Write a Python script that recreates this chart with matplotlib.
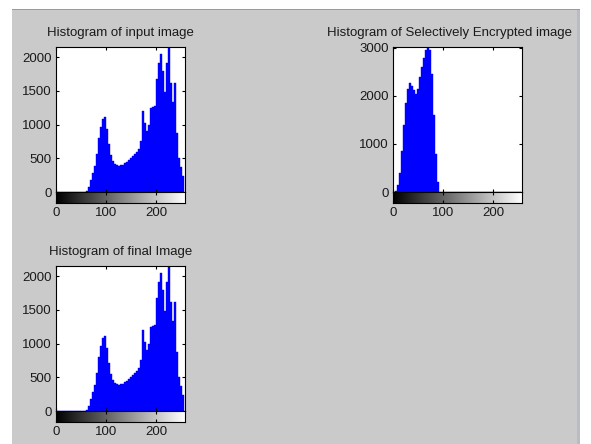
import numpy as np
import matplotlib.pyplot as plt
from matplotlib.patches import Rectangle

plt.rcParams['font.family'] = ['Liberation Sans', 'DejaVu Sans']

# histogram counts, 4 grey levels per bin
bin_starts = list(range(0, 256, 4))
input_counts = [0, 0, 0, 0, 0, 0, 0, 0, 0, 0, 0, 0, 0, 0, 0, 20,
                80, 180, 280, 380, 560, 800, 970, 1080, 1110, 940, 710, 550, 460, 415, 395, 385,
                395, 405, 425, 445, 470, 500, 530, 560, 590, 640, 750, 1200, 1030, 910,
                990, 1250, 1260, 1280, 1670, 1920, 2050, 1800, 1480, 1920, 2150, 1610, 1330, 1620,
                880, 510, 370, 230]
encrypted_counts = [0, 20, 150, 400, 850, 1400, 1850, 2150, 2280, 2200, 2120, 2050, 2150, 2400, 2600, 2800,
                    2950, 3020, 2950, 2450, 1600, 800, 200] + [0] * 41
final_counts = list(input_counts)

titles = ["Histogram of input image", "Histogram of Selectively Encrypted image", "Histogram of final Image"]
yticks_plain = [0, 500, 1000, 1500, 2000]
yticks_enc = [0, 1000, 2000, 3000]
xticks = [0, 100, 200]

W, H = 591, 444
fig = plt.figure(figsize=(W / 100, H / 100), dpi=100, facecolor='white')
fig.patches.append(Rectangle((12 / W, 0), (580 - 12) / W, 1 - 10 / H, transform=fig.transFigure,
                             facecolor='#cacaca', edgecolor='none', zorder=-10))
fig.patches.append(Rectangle((12 / W, 1 - 10.5 / H), (580 - 12) / W, 1.2 / H, transform=fig.transFigure,
                             facecolor='#9a9a9a', edgecolor='none', zorder=-10))
fig.patches.append(Rectangle((577 / W, 0), 3 / W, 1 - 10 / H, transform=fig.transFigure,
                             facecolor='#b8bcc4', edgecolor='none', zorder=-10))


def box(x0, y0, x1, y1):
    return [x0 / W, 1 - y1 / H, (x1 - x0) / W, (y1 - y0) / H]


def hist_panel(x0, y0, counts, ymax, yticks, title, title_x=0.5):
    ax = fig.add_axes(box(x0, y0, x0 + 129, y0 + 145))
    ax.bar(bin_starts, counts, width=4, align='edge', color='blue', edgecolor='blue', linewidth=0.3)
    ax.set_xlim(0, 258)
    ax.set_ylim(0, ymax)
    ax.set_xticks(xticks)
    ax.set_xticklabels([])
    ax.set_yticks(yticks)
    ax.tick_params(direction='in', length=2, top=True, right=True, labelsize=9.5, pad=3,
                   colors='black', labelcolor='#1a1a1a')
    ax.set_title(title, fontsize=9.5, pad=8, color='#1a1a1a', x=title_x)
    for s in ax.spines.values():
        s.set_linewidth(0.8)

    # grey-level bar under the histogram, as imhist draws it
    cax = fig.add_axes(box(x0, y0 + 145, x0 + 129, y0 + 156))
    cax.imshow(np.arange(256)[None, :], cmap='gray', aspect='auto', extent=[0, 258, 0, 1])
    cax.set_xlim(0, 258)
    cax.set_yticks([])
    cax.set_xticks(xticks)
    cax.tick_params(direction='in', length=2, top=True, labelsize=9.5, pad=3, labelcolor='#1a1a1a')
    for s in cax.spines.values():
        s.set_linewidth(0.8)


hist_panel(56, 47, input_counts, 2150, yticks_plain, titles[0])
hist_panel(393, 47, encrypted_counts, 3020, yticks_enc, titles[1], title_x=0.44)
hist_panel(56, 266, final_counts, 2150, yticks_plain, titles[2])

fig.savefig("out.png", dpi=100, facecolor=fig.get_facecolor())
